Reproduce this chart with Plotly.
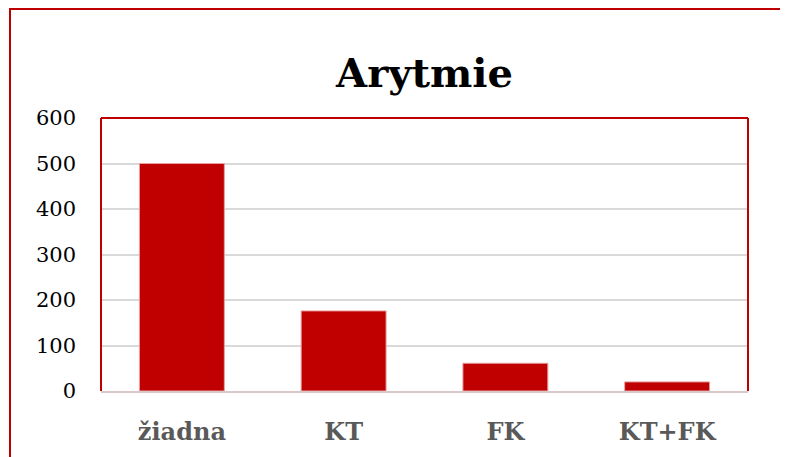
import plotly.graph_objects as go

categories = ["žiadna", "KT", "FK", "KT+FK"]
values = [500, 176, 61, 20]
y_ticks = [0, 100, 200, 300, 400, 500, 600]

OFF = 8  # page body margin
W, H = 788 - OFF, 457 - OFF
L, T = 101 - OFF, 118 - OFF
R = W - (748 - OFF)
B = H - (391 - OFF)
pw, ph = W - L - R, H - T - B

def px_x(x):
    return (x - OFF - L) / pw

def px_y(y):
    return 1 - (y - OFF - T) / ph

red = "#C00000"
font = "DejaVu Serif, serif"

fig = go.Figure(go.Bar(
    x=categories, y=values, width=0.525,
    marker=dict(color=red, line=dict(color="#E8A0A0", width=1)),
))

fig.update_layout(
    width=W, height=H,
    margin=dict(l=L, r=R, t=T, b=B),
    paper_bgcolor="white", plot_bgcolor="white",
    showlegend=False,
    title=dict(text="<b>Arytmie</b>", xref="paper", x=0.5, xanchor="center",
               y=1 - (73 - OFF) / H, yanchor="middle",
               font=dict(family=font, size=40, color="black")),
    xaxis=dict(showgrid=False, showline=True, linecolor="#d9c8c8", linewidth=2,
               tickfont=dict(family=font, size=24, color="#595959"),
               ticks="", ticklabelstandoff=18, tickprefix="<b>", ticksuffix="</b>"),
    yaxis=dict(range=[0, 600], tickvals=y_ticks, showgrid=True, gridcolor="#d9d9d9", gridwidth=1.5,
               zeroline=False, showline=False, ticks="",
               tickfont=dict(family=font, size=21, color="black"),
               ticklabelstandoff=24),
    bargap=0.475,
    shapes=[
        dict(type="line", xref="paper", yref="paper", x0=0, x1=0, y0=0, y1=1, line=dict(color=red, width=2)),
        dict(type="line", xref="paper", yref="paper", x0=1, x1=1, y0=0, y1=1, line=dict(color=red, width=2)),
        dict(type="line", xref="paper", yref="paper", x0=0, x1=1, y0=1, y1=1, line=dict(color=red, width=2)),
        dict(type="rect", xref="paper", yref="paper", x0=px_x(10), x1=px_x(830), y0=px_y(500), y1=px_y(9),
             line=dict(color=red, width=2), fillcolor="rgba(0,0,0,0)", layer="above"),
    ],
)

fig.write_html("out.html")
